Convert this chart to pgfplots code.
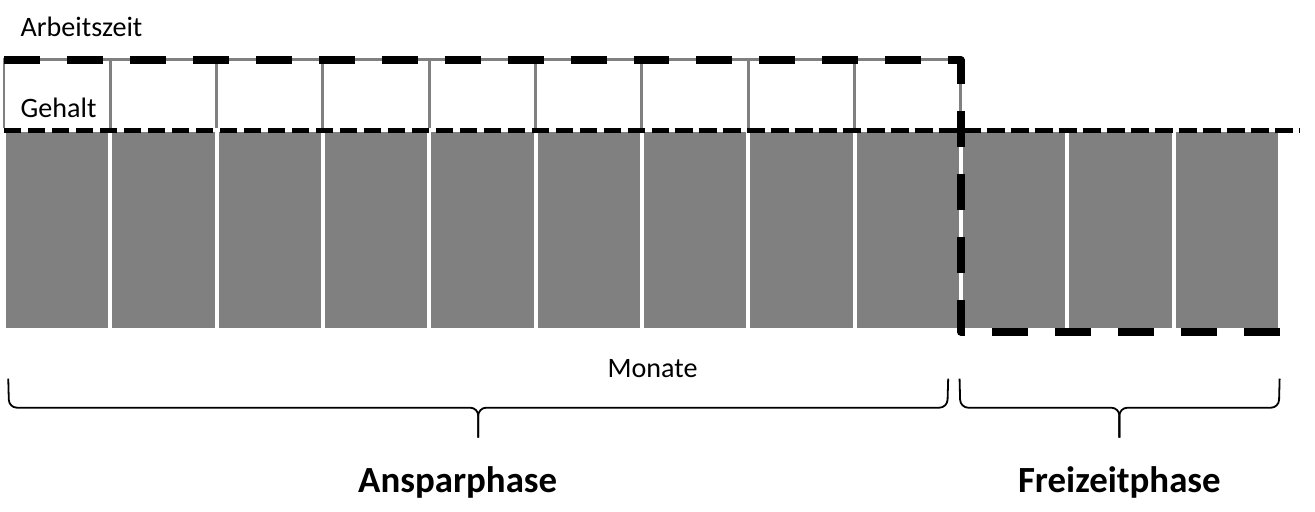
\documentclass[border=0pt]{standalone}
\usepackage{pgfplots}
\pgfplotsset{compat=1.18}
\usepackage{fontspec}
\setmainfont{Carlito}

\definecolor{bargray}{RGB}{128,128,128}

\begin{document}
\begin{tikzpicture}
\begin{axis}[
    width=13.15cm, height=5.12cm,
    scale only axis,
    hide axis,
    clip=false,
    xmin=-0.528, xmax=11.83,
    ymin=-1.82, ymax=3.3,
    ybar, bar width=1, bar shift=0pt,
]
    % Arbeitszeit-Kästen (Ansparphase)
    \addplot[fill=white, draw=bargray, line width=0.3mm]
    coordinates {(0,2.7) (1,2.7) (2,2.7) (3,2.7) (4,2.7) (5,2.7) (6,2.7) (7,2.7) (8,2.7)};

    % Gehalt pro Monat
    \addplot[fill=bargray, draw=white, line width=0.4mm]
    coordinates {(0,2) (1,2) (2,2) (3,2) (4,2) (5,2) (6,2) (7,2) (8,2) (9,2) (10,2) (11,2)};

    % Gehalt (gepunktet)
    \addplot[sharp plot, black, line width=0.55mm, dash pattern=on 1.75mm off 0.65mm]
    coordinates {(-0.5,1.995) (11.69,1.995)};

    % Arbeitszeit (gestrichelt)
    \addplot[sharp plot, black, line width=0.8mm, line join=round,
        dash pattern=on 3.6mm off 2.7mm]
    coordinates {(-0.5,2.695) (8.5,2.695) (8.5,-0.02) (11.5,-0.02)};

    \node[anchor=base west, inner sep=0, font=\fontsize{8}{9}\selectfont]
        at (axis cs:-0.35,2.93) {Arbeitszeit};
    \node[anchor=base west, inner sep=0, font=\fontsize{8}{9}\selectfont]
        at (axis cs:-0.35,2.12) {Gehalt};
    \node[anchor=base, inner sep=0, font=\fontsize{8}{9}\selectfont]
        at (axis cs:5.60,-0.48) {Monate};

    % geschweifte Klammern
    \begin{scope}[line width=0.18mm, rounded corners=0.8mm]
    \draw (axis cs:-0.46,-0.49) -- (axis cs:-0.453,-0.78) -- (axis cs:3.96,-0.78) -- (axis cs:3.96,-1.08);
    \draw (axis cs:8.38,-0.49) -- (axis cs:8.372,-0.78) -- (axis cs:3.96,-0.78) -- (axis cs:3.96,-1.08);
    \draw (axis cs:8.487,-0.49) -- (axis cs:8.494,-0.78) -- (axis cs:9.99,-0.78) -- (axis cs:9.99,-1.08);
    \draw (axis cs:11.497,-0.49) -- (axis cs:11.49,-0.78) -- (axis cs:9.99,-0.78) -- (axis cs:9.99,-1.08);
    \end{scope}

    \node[anchor=base, inner sep=0, font=\fontsize{10.5}{12}\selectfont\bfseries]
        at (axis cs:3.767,-1.63) {Ansparphase};
    \node[anchor=base, inner sep=0, font=\fontsize{10.5}{12}\selectfont\bfseries]
        at (axis cs:9.99,-1.63) {Freizeitphase};

    \path (rel axis cs:0,0) rectangle (rel axis cs:1,1);
\end{axis}
\end{tikzpicture}
\end{document}
